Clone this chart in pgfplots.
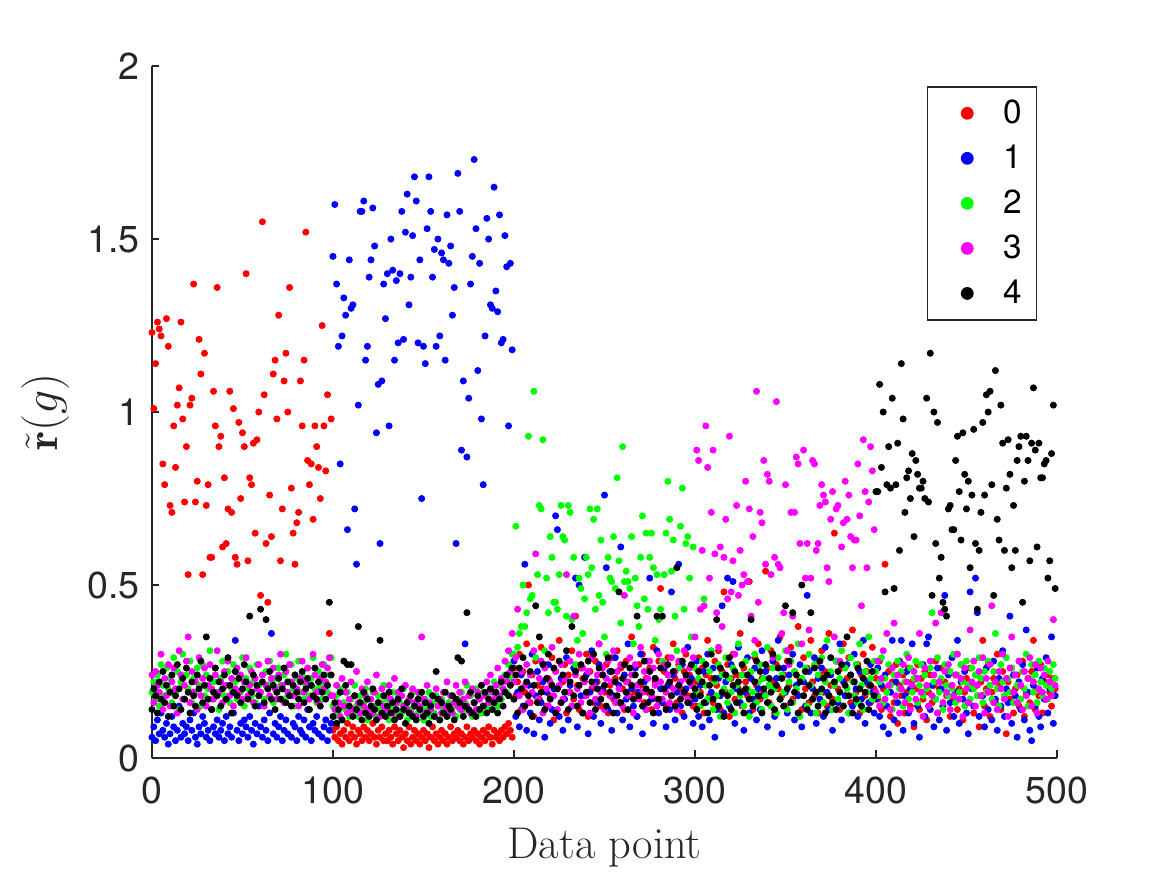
\documentclass[border=0pt]{standalone}
\usepackage{fontspec}
\setsansfont{TeX Gyre Heros}
\usepackage{pgfplots}
\usepackage{pgfplotstable}
\pgfplotsset{compat=1.18}
\definecolor{axgray}{RGB}{38,38,38}
\definecolor{cred}{rgb}{1,0,0}
\definecolor{cblue}{rgb}{0,0,1}
\definecolor{cgreen}{rgb}{0,1,0}
\definecolor{cmag}{rgb}{1,0,1}
\definecolor{cblack}{rgb}{0,0,0}
\pgfplotstableread{
x r b g m k
0 1.23 0.06 0.19 0.24 0.14
1 1.01 0.09 0.22 0.16 0.20
2 1.14 0.05 0.17 0.25 0.18
3 1.26 0.11 0.24 0.21 0.13
4 1.24 0.07 0.15 0.19 0.22
5 1.22 0.13 0.27 0.30 0.17
6 0.85 0.08 0.21 0.14 0.25
7 0.79 0.06 0.18 0.23 0.16
8 1.27 0.10 0.26 0.18 0.21
9 1.19 0.04 0.20 0.27 0.12
10 0.73 0.07 0.23 0.15 0.19
11 0.71 0.12 0.16 0.22 0.24
12 0.96 0.09 0.29 0.26 0.15
13 0.84 0.05 0.19 0.20 0.18
14 1.02 0.08 0.25 0.13 0.27
15 1.07 0.15 0.14 0.31 0.20
16 1.26 0.06 0.22 0.24 0.14
17 0.98 0.10 0.30 0.17 0.23
18 0.74 0.07 0.17 0.21 0.17
19 0.90 0.09 0.24 0.28 0.26
20 0.53 0.05 0.20 0.35 0.19
21 1.02 0.11 0.28 0.16 0.13
22 1.04 0.08 0.16 0.25 0.22
23 1.37 0.13 0.23 0.19 0.18
24 0.74 0.06 0.19 0.22 0.15
25 0.80 0.04 0.26 0.14 0.24
26 1.21 0.09 0.21 0.29 0.20
27 1.11 0.07 0.15 0.18 0.28
28 0.53 0.12 0.27 0.23 0.16
29 1.17 0.10 0.18 0.26 0.21
30 0.73 0.06 0.24 0.15 0.35
31 0.79 0.08 0.20 0.21 0.17
32 0.58 0.05 0.31 0.27 0.23
33 0.58 0.14 0.17 0.20 0.14
34 1.06 0.09 0.22 0.17 0.19
35 0.96 0.07 0.26 0.24 0.26
36 1.36 0.11 0.19 0.31 0.18
37 0.90 0.06 0.14 0.19 0.22
38 0.93 0.08 0.23 0.22 0.15
39 0.61 0.10 0.28 0.16 0.20
40 0.81 0.05 0.18 0.25 0.24
41 0.62 0.12 0.21 0.21 0.17
42 0.72 0.07 0.25 0.28 0.29
43 1.06 0.09 0.16 0.18 0.21
44 0.71 0.06 0.20 0.23 0.13
45 1.01 0.13 0.27 0.15 0.19
46 0.58 0.34 0.22 0.20 0.25
47 0.56 0.08 0.17 0.26 0.18
48 0.97 0.05 0.24 0.19 0.23
49 0.75 0.10 0.19 0.24 0.16
50 0.94 0.07 0.29 0.17 0.20
51 0.90 0.11 0.15 0.22 0.27
52 1.40 0.09 0.23 0.29 0.22
53 0.57 0.06 0.20 0.18 0.17
54 0.81 0.12 0.26 0.21 0.41
55 0.79 0.08 0.18 0.25 0.19
56 0.91 0.04 0.22 0.16 0.24
57 0.65 0.10 0.16 0.23 0.15
58 0.92 0.07 0.27 0.20 0.21
59 1.00 0.15 0.21 0.27 0.18
60 0.47 0.09 0.19 0.19 0.43
61 1.55 0.06 0.24 0.24 0.22
62 1.05 0.11 0.17 0.15 0.16
63 0.62 0.08 0.25 0.21 0.40
64 0.45 0.05 0.20 0.28 0.20
65 0.76 0.13 0.28 0.18 0.25
66 0.64 0.36 0.22 0.23 0.17
67 1.11 0.07 0.16 0.26 0.21
68 1.15 0.10 0.23 0.20 0.14
69 0.98 0.06 0.19 0.17 0.19
70 1.28 0.09 0.26 0.24 0.23
71 0.57 0.12 0.21 0.30 0.17
72 0.72 0.05 0.17 0.21 0.20
73 1.09 0.08 0.24 0.16 0.26
74 1.17 0.11 0.30 0.25 0.16
75 1.00 0.07 0.18 0.19 0.22
76 1.36 0.18 0.22 0.27 0.18
77 0.78 0.06 0.27 0.22 0.15
78 0.65 0.10 0.20 0.18 0.21
79 0.56 0.09 0.15 0.24 0.24
80 0.68 0.05 0.23 0.20 0.19
81 0.71 0.12 0.28 0.15 0.17
82 1.09 0.08 0.19 0.23 0.22
83 0.96 0.07 0.24 0.28 0.25
84 1.15 0.11 0.17 0.19 0.16
85 1.52 0.06 0.21 0.22 0.20
86 0.86 0.14 0.26 0.26 0.23
87 0.79 0.09 0.18 0.17 0.14
88 0.85 0.05 0.23 0.21 0.21
89 0.69 0.10 0.29 0.30 0.18
90 0.96 0.08 0.20 0.24 0.26
91 0.90 0.12 0.16 0.19 0.17
92 0.84 0.07 0.25 0.16 0.22
93 0.75 0.20 0.21 0.23 0.15
94 1.25 0.06 0.17 0.27 0.19
95 0.96 0.09 0.27 0.20 0.24
96 0.83 0.11 0.22 0.22 0.17
97 1.05 0.05 0.19 0.26 0.21
98 0.36 0.08 0.24 0.29 0.45
99 0.98 0.10 0.29 0.18 0.24
100 0.08 1.45 0.15 0.18 0.12
101 0.06 1.60 0.12 0.14 0.16
102 0.09 1.37 0.18 0.21 0.10
103 0.05 1.19 0.13 0.16 0.14
104 0.07 0.85 0.20 0.12 0.19
105 0.04 1.22 0.11 0.23 0.11
106 0.08 1.33 0.16 0.15 0.28
107 0.06 1.28 0.14 0.19 0.21
108 0.10 0.66 0.19 0.13 0.27
109 0.05 1.44 0.12 0.17 0.15
110 0.07 1.30 0.17 0.22 0.27
111 0.09 1.31 0.13 0.14 0.12
112 0.06 0.72 0.21 0.18 0.18
113 0.04 0.56 0.15 0.25 0.14
114 0.08 1.02 0.12 0.16 0.38
115 0.07 1.58 0.18 0.13 0.16
116 0.05 1.58 0.14 0.20 0.11
117 0.09 1.61 0.16 0.15 0.19
118 0.06 1.15 0.20 0.18 0.13
119 0.08 1.19 0.11 0.22 0.17
120 0.05 1.39 0.17 0.14 0.12
121 0.07 1.44 0.13 0.17 0.15
122 0.10 1.59 0.19 0.13 0.20
123 0.06 1.48 0.15 0.19 0.14
124 0.04 0.94 0.12 0.24 0.11
125 0.08 1.08 0.18 0.16 0.16
126 0.06 0.62 0.14 0.12 0.34
127 0.09 1.09 0.16 0.20 0.13
128 0.05 1.37 0.21 0.15 0.18
129 0.07 1.27 0.13 0.18 0.12
130 0.05 1.40 0.17 0.14 0.15
131 0.08 0.96 0.11 0.21 0.19
132 0.06 1.50 0.15 0.17 0.13
133 0.04 1.41 0.19 0.13 0.16
134 0.09 1.15 0.14 0.23 0.11
135 0.07 1.38 0.12 0.16 0.14
136 0.05 1.20 0.18 0.19 0.17
137 0.08 1.40 0.16 0.12 0.12
138 0.06 1.58 0.13 0.18 0.20
139 0.03 1.21 0.20 0.15 0.14
140 0.07 1.52 0.15 0.21 0.10
141 0.05 1.63 0.11 0.14 0.16
142 0.09 1.31 0.17 0.17 0.13
143 0.04 1.39 0.14 0.13 0.18
144 0.06 1.51 0.19 0.20 0.12
145 0.08 1.68 0.12 0.16 0.15
146 0.05 1.61 0.16 0.12 0.11
147 0.07 1.20 0.13 0.19 0.17
148 0.04 1.44 0.18 0.15 0.14
149 0.06 0.75 0.15 0.35 0.19
150 0.08 1.19 0.11 0.17 0.12
151 0.05 1.14 0.17 0.13 0.16
152 0.07 1.53 0.14 0.21 0.13
153 0.03 1.68 0.19 0.16 0.10
154 0.06 1.58 0.12 0.14 0.15
155 0.09 1.39 0.16 0.18 0.18
156 0.05 1.47 0.13 0.12 0.12
157 0.07 1.19 0.18 0.20 0.25
158 0.04 1.50 0.15 0.15 0.17
159 0.06 1.22 0.11 0.17 0.11
160 0.08 1.46 0.17 0.13 0.16
161 0.05 1.44 0.14 0.19 0.13
162 0.07 1.15 0.19 0.15 0.19
163 0.04 1.57 0.12 0.22 0.12
164 0.06 1.43 0.16 0.14 0.15
165 0.09 1.48 0.13 0.18 0.14
166 0.05 1.28 0.18 0.13 0.18
167 0.07 1.36 0.15 0.16 0.11
168 0.06 0.62 0.12 0.21 0.17
169 0.08 1.69 0.17 0.15 0.29
170 0.05 1.58 0.14 0.19 0.16
171 0.07 0.89 0.19 0.14 0.28
172 0.04 1.09 0.13 0.17 0.12
173 0.06 0.33 0.16 0.22 0.15
174 0.09 0.87 0.21 0.15 0.42
175 0.05 1.04 0.14 0.18 0.14
176 0.07 1.37 0.18 0.13 0.19
177 0.06 1.45 0.12 0.20 0.13
178 0.08 1.73 0.16 0.16 0.16
179 0.05 1.53 0.20 0.14 0.12
180 0.07 1.12 0.14 0.19 0.18
181 0.04 1.43 0.17 0.17 0.14
182 0.06 0.98 0.13 0.21 0.21
183 0.08 0.79 0.19 0.15 0.15
184 0.05 1.22 0.15 0.18 0.19
185 0.07 1.56 0.18 0.22 0.13
186 0.09 1.50 0.14 0.16 0.17
187 0.06 1.31 0.20 0.24 0.20
188 0.04 1.30 0.16 0.19 0.14
189 0.08 1.65 0.22 0.17 0.16
190 0.06 1.35 0.18 0.21 0.19
191 0.07 1.29 0.15 0.26 0.13
192 0.05 1.57 0.21 0.18 0.17
193 0.08 1.20 0.17 0.23 0.22
194 0.06 1.21 0.20 0.20 0.15
195 0.09 1.51 0.24 0.28 0.19
196 0.07 1.42 0.19 0.22 0.24
197 0.10 0.96 0.27 0.31 0.18
198 0.08 1.43 0.23 0.25 0.21
199 0.06 1.18 0.30 0.36 0.26
200 0.26 0.28 0.30 0.22 0.17
201 0.18 0.12 0.67 0.29 0.24
202 0.22 0.19 0.32 0.43 0.13
203 0.30 0.09 0.36 0.18 0.26
204 0.14 0.24 0.38 0.25 0.20
205 0.25 0.15 0.50 0.14 0.29
206 0.19 0.56 0.38 0.21 0.15
207 0.33 0.08 0.42 0.27 0.22
208 0.50 0.21 0.93 0.16 0.18
209 0.16 0.13 0.46 0.24 0.25
210 0.24 0.30 0.47 0.19 0.12
211 0.12 0.07 1.06 0.31 0.21
212 0.28 0.18 0.29 0.59 0.44
213 0.21 0.25 0.53 0.17 0.16
214 0.17 0.11 0.73 0.23 0.35
215 0.32 0.16 0.72 0.28 0.19
216 0.20 0.22 0.92 0.13 0.27
217 0.27 0.06 0.31 0.26 0.14
218 0.15 0.19 0.52 0.20 0.23
219 0.23 0.27 0.42 0.15 0.30
220 0.18 0.10 0.64 0.22 0.17
221 0.29 0.14 0.58 0.32 0.21
222 0.11 0.20 0.45 0.18 0.26
223 0.25 0.70 0.45 0.25 0.13
224 0.20 0.66 0.43 0.14 0.20
225 0.34 0.12 0.53 0.21 0.28
226 0.16 0.23 0.73 0.27 0.16
227 0.22 0.08 0.64 0.17 0.24
228 0.27 0.17 0.63 0.23 0.19
229 0.13 0.29 0.41 0.53 0.31
230 0.24 0.11 0.73 0.19 0.14
231 0.19 0.21 0.71 0.28 0.22
232 0.31 0.15 0.40 0.15 0.38
233 0.17 0.26 0.58 0.41 0.18
234 0.41 0.52 0.27 0.24 0.25
235 0.21 0.09 0.34 0.20 0.15
236 0.14 0.50 0.52 0.30 0.21
237 0.26 0.18 0.49 0.16 0.27
238 0.23 0.13 0.36 0.26 0.13
239 0.18 0.58 0.46 0.22 0.23
240 0.30 0.24 0.58 0.18 0.19
241 0.12 0.07 0.53 0.25 0.28
242 0.25 0.19 0.72 0.13 0.16
243 0.20 0.31 0.55 0.29 0.22
244 0.16 0.12 0.69 0.21 0.30
245 0.28 0.22 0.43 0.17 0.14
246 0.22 0.16 0.72 0.24 0.20
247 0.33 0.27 0.47 0.33 0.26
248 0.15 0.10 0.63 0.19 0.17
249 0.24 0.20 0.45 0.26 0.24
250 0.19 0.76 0.35 0.14 0.21
251 0.27 0.55 0.30 0.23 0.15
252 0.13 0.14 0.58 0.28 0.29
253 0.21 0.25 0.52 0.18 0.19
254 0.29 0.08 0.51 0.22 0.25
255 0.17 0.18 0.64 0.31 0.13
256 0.23 0.29 0.49 0.16 0.22
257 0.31 0.13 0.81 0.25 0.18
258 0.16 0.21 0.57 0.20 0.48
259 0.26 0.61 0.39 0.27 0.16
260 0.20 0.11 0.90 0.15 0.23
261 0.14 0.24 0.51 0.47 0.27
262 0.28 0.17 0.54 0.22 0.19
263 0.22 0.33 0.51 0.18 0.14
264 0.18 0.09 0.49 0.29 0.26
265 0.35 0.20 0.64 0.24 0.21
266 0.24 0.15 0.33 0.13 0.17
267 0.19 0.26 0.52 0.27 0.24
268 0.12 0.12 0.44 0.21 0.41
269 0.27 0.19 0.38 0.17 0.18
270 0.21 0.30 0.58 0.32 0.22
271 0.30 0.07 0.70 0.19 0.15
272 0.16 0.22 0.46 0.25 0.28
273 0.23 0.14 0.65 0.14 0.20
274 0.19 0.28 0.43 0.23 0.16
275 0.26 0.52 0.58 0.28 0.25
276 0.14 0.17 0.65 0.18 0.19
277 0.32 0.10 0.55 0.26 0.13
278 0.22 0.23 0.34 0.21 0.23
279 0.17 0.31 0.53 0.15 0.41
280 0.28 0.13 0.40 0.30 0.17
281 0.49 0.20 0.43 0.22 0.26
282 0.20 0.16 0.28 0.17 0.41
283 0.25 0.26 0.53 0.27 0.20
284 0.15 0.09 0.65 0.19 0.14
285 0.29 0.21 0.80 0.24 0.27
286 0.21 0.14 0.69 0.16 0.22
287 0.18 0.48 0.54 0.29 0.18
288 0.33 0.24 0.63 0.20 0.25
289 0.23 0.11 0.41 0.25 0.15
290 0.16 0.19 0.31 0.14 0.55
291 0.27 0.56 0.26 0.28 0.21
292 0.20 0.15 0.67 0.22 0.17
293 0.13 0.27 0.78 0.18 0.28
294 0.25 0.12 0.43 0.31 0.19
295 0.30 0.20 0.62 0.23 0.24
296 0.18 0.32 0.64 0.17 0.16
297 0.24 0.16 0.52 0.26 0.22
298 0.21 0.23 0.35 0.21 0.27
299 0.15 0.10 0.61 0.29 0.18
300 0.22 0.17 0.26 0.35 0.20
301 0.15 0.28 0.19 0.89 0.14
302 0.29 0.12 0.23 0.86 0.25
303 0.19 0.21 0.15 0.43 0.18
304 0.26 0.09 0.28 0.60 0.22
305 0.13 0.25 0.46 0.44 0.16
306 0.24 0.16 0.21 0.96 0.27
307 0.34 0.30 0.17 0.84 0.13
308 0.18 0.11 0.25 0.52 0.21
309 0.23 0.19 0.31 0.71 0.30
310 0.16 0.26 0.14 0.89 0.17
311 0.28 0.06 0.22 0.59 0.23
312 0.21 0.14 0.18 0.42 0.40
313 0.31 0.23 0.27 0.32 0.15
314 0.14 0.18 0.12 0.61 0.26
315 0.25 0.44 0.24 0.38 0.19
316 0.48 0.13 0.20 0.58 0.12
317 0.19 0.22 0.29 0.69 0.24
318 0.27 0.52 0.16 0.46 0.18
319 0.12 0.15 0.23 0.93 0.29
320 0.23 0.27 0.19 0.48 0.14
321 0.30 0.51 0.26 0.57 0.21
322 0.17 0.10 0.13 0.30 0.25
323 0.24 0.20 0.21 0.73 0.16
324 0.20 0.32 0.33 0.47 0.22
325 0.36 0.16 0.18 0.60 0.19
326 0.15 0.24 0.24 0.50 0.27
327 0.26 0.08 0.15 0.53 0.13
328 0.22 0.19 0.28 0.80 0.20
329 0.18 0.29 0.20 0.51 0.24
330 0.51 0.13 0.12 0.72 0.17
331 0.25 0.23 0.25 0.41 0.40
332 0.14 0.17 0.19 0.64 0.15
333 0.29 0.26 0.30 0.34 0.22
334 0.21 0.11 0.16 1.06 0.28
335 0.33 0.20 0.22 0.45 0.18
336 0.17 0.14 0.27 0.71 0.25
337 0.23 0.31 0.14 0.68 0.13
338 0.19 0.18 0.23 0.86 0.20
339 0.54 0.25 0.18 0.56 0.27
340 0.26 0.09 0.32 0.82 0.16
341 0.16 0.21 0.21 0.80 0.23
342 0.31 0.15 0.15 0.53 0.19
343 0.22 0.28 0.26 0.29 0.30
344 0.13 0.12 0.20 0.58 0.14
345 0.27 0.23 0.13 1.03 0.21
346 0.20 0.34 0.29 0.56 0.26
347 0.35 0.17 0.17 0.55 0.17
348 0.18 0.07 0.24 0.36 0.23
349 0.24 0.26 0.19 0.42 0.15
350 0.15 0.19 0.31 0.79 0.44
351 0.28 0.13 0.14 0.31 0.20
352 0.21 0.24 0.22 0.27 0.28
353 0.32 0.16 0.28 0.71 0.16
354 0.17 0.30 0.16 0.41 0.42
355 0.25 0.11 0.25 0.71 0.19
356 0.19 0.21 0.20 0.87 0.24
357 0.38 0.18 0.33 0.85 0.13
358 0.23 0.27 0.12 0.62 0.22
359 0.14 0.09 0.23 0.33 0.50
360 0.29 0.22 0.18 0.89 0.18
361 0.20 0.15 0.26 0.52 0.25
362 0.26 0.47 0.15 0.62 0.14
363 0.16 0.25 0.30 0.37 0.21
364 0.34 0.13 0.21 0.52 0.42
365 0.22 0.20 0.17 0.86 0.17
366 0.18 0.29 0.27 0.85 0.26
367 0.27 0.10 0.13 0.60 0.19
368 0.13 0.23 0.24 0.62 0.15
369 0.24 0.17 0.19 0.73 0.28
370 0.31 0.26 0.29 0.79 0.20
371 0.19 0.12 0.16 0.76 0.23
372 0.25 0.32 0.22 0.74 0.13
373 0.15 0.19 0.34 0.55 0.24
374 0.36 0.14 0.18 0.51 0.18
375 0.21 0.24 0.25 0.69 0.29
376 0.17 0.08 0.14 0.77 0.16
377 0.65 0.21 0.21 0.35 0.22
378 0.28 0.28 0.28 0.72 0.14
379 0.20 0.16 0.17 0.73 0.25
380 0.14 0.33 0.23 0.28 0.19
381 0.26 0.11 0.31 0.61 0.27
382 0.33 0.22 0.15 0.68 0.15
383 0.18 0.18 0.26 0.80 0.21
384 0.23 0.27 0.20 0.69 0.35
385 0.29 0.13 0.13 0.76 0.18
386 0.16 0.24 0.29 0.64 0.24
387 0.37 0.15 0.22 0.55 0.13
388 0.22 0.30 0.18 0.63 0.22
389 0.19 0.20 0.27 0.63 0.17
390 0.27 0.12 0.16 0.85 0.26
391 0.13 0.25 0.33 0.70 0.20
392 0.24 0.17 0.21 0.44 0.15
393 0.30 0.34 0.14 0.92 0.23
394 0.18 0.10 0.25 0.77 0.19
395 0.25 0.22 0.19 0.55 0.28
396 0.21 0.16 0.35 0.74 0.14
397 0.16 0.27 0.23 0.90 0.21
398 0.32 0.19 0.17 0.83 0.25
399 0.20 0.13 0.28 0.66 0.18
400 0.23 0.17 0.25 0.19 0.77
401 0.17 0.26 0.18 0.28 0.77
402 0.28 0.12 0.22 0.15 1.08
403 0.14 0.21 0.29 0.23 0.84
404 0.20 0.09 0.16 0.31 1.00
405 0.56 0.24 0.23 0.17 0.48
406 0.19 0.15 0.19 0.36 0.79
407 0.25 0.07 0.27 0.21 0.90
408 0.12 0.19 0.21 0.14 0.78
409 0.22 0.34 0.14 0.26 1.04
410 0.16 0.11 0.24 0.39 0.49
411 0.27 0.22 0.18 0.18 0.79
412 0.10 0.16 0.28 0.24 0.91
413 0.21 0.28 0.20 0.13 0.60
414 0.18 0.34 0.25 0.20 1.14
415 0.24 0.08 0.15 0.27 0.98
416 0.13 0.18 0.22 0.16 0.71
417 0.19 0.25 0.30 0.22 0.81
418 0.26 0.13 0.17 0.29 0.83
419 0.15 0.20 0.26 0.14 0.75
420 0.22 0.33 0.19 0.21 0.88
421 0.09 0.10 0.23 0.25 0.64
422 0.20 0.23 0.28 0.17 0.86
423 0.27 0.15 0.16 0.23 0.82
424 0.14 0.06 0.21 0.36 0.78
425 0.23 0.19 0.27 0.19 0.78
426 0.17 0.27 0.18 0.12 0.80
427 0.25 0.12 0.24 0.26 0.75
428 0.11 0.33 0.20 0.21 1.04
429 0.19 0.35 0.15 0.15 0.74
430 0.24 0.14 0.26 0.28 1.17
431 0.16 0.21 0.42 0.18 0.47
432 0.21 0.09 0.22 0.24 1.00
433 0.28 0.17 0.17 0.39 0.62
434 0.13 0.26 0.29 0.13 0.97
435 0.20 0.11 0.19 0.22 0.52
436 0.26 0.20 0.23 0.42 0.58
437 0.15 0.15 0.14 0.16 0.45
438 0.22 0.47 0.27 0.25 0.43
439 0.18 0.08 0.21 0.19 0.41
440 0.25 0.24 0.18 0.27 0.72
441 0.12 0.16 0.25 0.14 0.73
442 0.21 0.29 0.20 0.21 0.66
443 0.17 0.12 0.30 0.18 0.66
444 0.24 0.19 0.16 0.24 0.86
445 0.14 0.34 0.24 0.30 0.93
446 0.20 0.10 0.19 0.17 0.77
447 0.27 0.22 0.27 0.23 0.63
448 0.11 0.17 0.22 0.12 0.94
449 0.19 0.25 0.15 0.26 0.82
450 0.23 0.13 0.28 0.20 0.72
451 0.16 0.07 0.21 0.16 0.80
452 0.26 0.48 0.17 0.37 0.55
453 0.21 0.20 0.26 0.22 0.76
454 0.13 0.15 0.20 0.28 0.95
455 0.24 0.52 0.24 0.15 0.62
456 0.18 0.42 0.18 0.21 0.43
457 0.09 0.12 0.29 0.25 0.60
458 0.22 0.23 0.23 0.18 0.71
459 0.34 0.18 0.16 0.29 0.97
460 0.15 0.09 0.25 0.13 0.76
461 0.20 0.26 0.19 0.23 1.05
462 0.27 0.14 0.28 0.19 1.00
463 0.12 0.21 0.21 0.27 1.06
464 0.19 0.11 0.17 0.44 0.79
465 0.23 0.28 0.25 0.16 0.47
466 0.16 0.17 0.36 0.22 1.12
467 0.30 0.08 0.20 0.14 0.69
468 0.21 0.23 0.15 0.25 0.63
469 0.14 0.15 0.27 0.20 1.02
470 0.25 0.31 0.22 0.30 0.91
471 0.18 0.12 0.18 0.17 0.60
472 0.07 0.20 0.29 0.23 0.78
473 0.22 0.16 0.23 0.12 0.92
474 0.17 0.41 0.19 0.26 0.82
475 0.26 0.10 0.26 0.35 0.55
476 0.13 0.24 0.16 0.19 0.73
477 0.20 0.18 0.24 0.24 0.60
478 0.24 0.06 0.21 0.16 0.86
479 0.15 0.22 0.28 0.28 0.90
480 0.21 0.14 0.17 0.21 0.93
481 0.28 0.27 0.25 0.14 0.45
482 0.12 0.11 0.20 0.25 0.80
483 0.19 0.37 0.30 0.18 0.93
484 0.23 0.19 0.15 0.23 0.86
485 0.16 0.08 0.23 0.29 0.57
486 0.25 0.05 0.27 0.15 0.91
487 0.34 0.21 0.19 0.22 1.07
488 0.14 0.15 0.24 0.27 0.89
489 0.20 0.26 0.16 0.13 0.61
490 0.18 0.12 0.28 0.20 0.91
491 0.27 0.09 0.22 0.26 0.81
492 0.13 0.23 0.18 0.19 0.81
493 0.22 0.17 0.26 0.24 0.85
494 0.17 0.29 0.21 0.17 0.86
495 0.24 0.13 0.17 0.28 0.52
496 0.19 0.20 0.25 0.22 0.57
497 0.15 0.35 0.20 0.18 0.88
498 0.23 0.10 0.27 0.40 1.02
499 0.20 0.18 0.23 0.21 0.49
}\datatable
\begin{document}
\begin{tikzpicture}
\useasboundingbox (-54.7pt,-42.2pt) rectangle (365.3pt,272.8pt);
\begin{axis}[
  at={(0pt,0pt)}, anchor=south west,
  scale only axis, width=325.7pt, height=249pt,
  xmin=0, xmax=500, ymin=0, ymax=2,
  axis x line*=bottom, axis y line*=left,
  axis line style={-, draw=axgray, line width=0.5pt},
  tick align=inside, major tick length=2.7pt,
  tick style={draw=axgray, line width=0.5pt},
  xtick={0,100,200,300,400,500},
  ytick={0,0.5,1,1.5,2},
  /pgf/number format/assume math mode=true,
  ticklabel style={font=\sffamily\fontsize{13.5}{16}\selectfont, text=axgray},
  xticklabel style={yshift=-3.4pt},
  yticklabel style={xshift=-1pt},
  xlabel={Data point},
  ylabel={$\tilde{\mathbf{r}}(g)$},
  xlabel style={at={(axis description cs:0.5,-0.1446)}, anchor=base, font=\fontsize{16}{19}\selectfont, text=axgray},
  ylabel style={at={(axis description cs:-0.1182,0.5)}, anchor=center, font=\fontsize{16}{19}\selectfont, text=axgray},
  clip=false,
  legend style={at={(0.978,0.971)}, anchor=north east, draw=axgray, line width=0.5pt,
    font=\sffamily\fontsize{12}{14}\selectfont, inner xsep=3.3pt, inner ysep=2.5pt,
    row sep=2.2pt, nodes={inner sep=2pt}},
  legend cell align=left,
  legend image code/.code={\path[draw=none,fill=none] (-10.9pt,0pt) -- (10.9pt,0pt);\fill[#1,draw=none] (0pt,0pt) circle[radius=2.3pt];},
  every axis plot/.append style={only marks, mark=*, mark size=1.05pt},
]
\addplot[cred] table[x=x,y=r]{\datatable};
\addplot[cblue] table[x=x,y=b]{\datatable};
\addplot[cgreen] table[x=x,y=g]{\datatable};
\addplot[cmag] table[x=x,y=m]{\datatable};
\addplot[cblack] table[x=x,y=k]{\datatable};
\legend{0,1,2,3,4}
\end{axis}
\end{tikzpicture}
\end{document}
